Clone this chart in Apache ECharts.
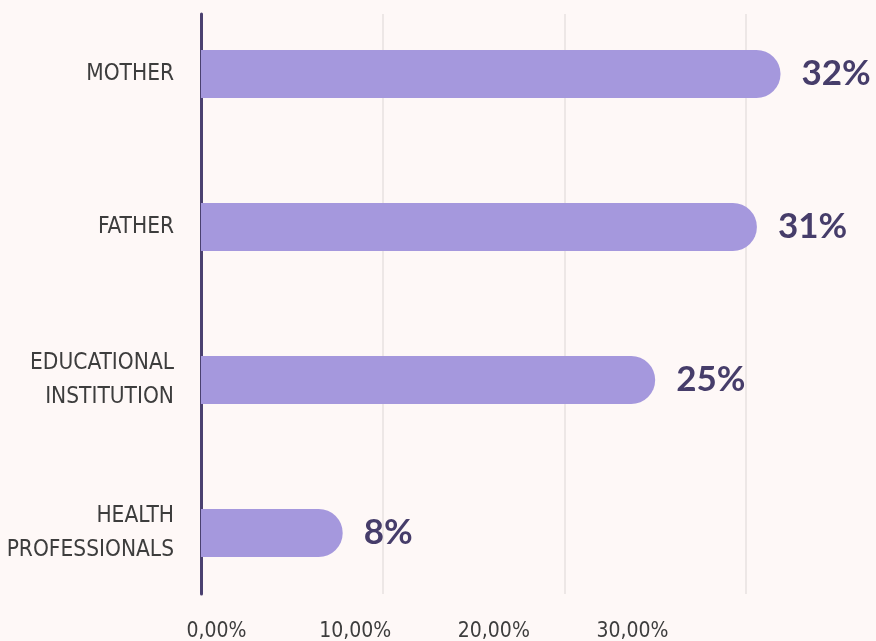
<!DOCTYPE html>
<html>
<head>
<meta charset="utf-8">
<script src="https://cdn.jsdelivr.net/npm/echarts@6/dist/echarts.min.js"></script>
<style>
html,body{margin:0;padding:0;background:#fef8f7;}
#c{width:876px;height:641px;}
</style>
</head>
<body>
<div id="c"></div>
<script>
const categories = ["MOTHER", "FATHER", "EDUCATIONAL\nINSTITUTION", "HEALTH\nPROFESSIONALS"];
const values = [31.9, 30.6, 25.0, 7.8];
const tickLabels = ["0,00%", "10,00%", "20,00%", "30,00%"];

const FONT = "'DejaVu Sans Condensed', 'Liberation Sans Narrow', 'Arial Narrow', sans-serif";
const chart = echarts.init(document.getElementById('c'));
const W = 726.67;
chart.setOption({
  backgroundColor: '#fef8f7',
  animation: false,
  grid: [
    { left: 201, top: 14, height: 580, width: W, containLabel: false, outerBoundsMode: 'none' },
    { left: 201, top: -2.5, height: 612, width: W, containLabel: false, outerBoundsMode: 'none' },
    { left: 216.5, top: 602, height: 10, width: 416, containLabel: false, outerBoundsMode: 'none' }
  ],
  xAxis: [
    { gridIndex: 0, type: 'value', min: 0, max: 40, interval: 10,
      axisLine: { show: false }, axisTick: { show: false }, axisLabel: { show: false },
      splitLine: { show: true, lineStyle: { color: '#ede7e6', width: 2 } } },
    { gridIndex: 1, type: 'value', min: 0, max: 40, interval: 10,
      axisLine: { show: false }, axisTick: { show: false }, axisLabel: { show: false },
      splitLine: { show: false } },
    { gridIndex: 2, type: 'value', min: 0, max: 30, interval: 10, position: 'bottom',
      axisLine: { show: false }, axisTick: { show: false }, splitLine: { show: false },
      axisLabel: { show: true, margin: 9, fontFamily: FONT, fontSize: 21,
        color: '#3d3d3d', formatter: v => tickLabels[Math.round(v / 10)] } }
  ],
  yAxis: [
    { gridIndex: 0, type: 'value', min: 0, max: 1,
      axisLine: { show: true, lineStyle: { color: '#4b4170', width: 3 } },
      axisTick: { show: false }, axisLabel: { show: false }, splitLine: { show: false } },
    { gridIndex: 1, type: 'category', data: categories, inverse: true,
      axisLine: { show: false }, axisTick: { show: false },
      axisLabel: { margin: 27, fontFamily: FONT, fontSize: 22.5,
        lineHeight: 34, padding: [8, 0, 0, 0], color: '#3d3d3d', align: 'right' } },
    { gridIndex: 2, type: 'value', show: false }
  ],
  series: [{
    type: 'bar',
    xAxisIndex: 1, yAxisIndex: 1,
    data: values,
    barWidth: 48,
    itemStyle: { color: '#a598dd', borderRadius: [0, 24, 24, 0] },
    label: {
      show: true, position: 'right', distance: 21, padding: [4, 0, 0, 0],
      fontFamily: 'Lato', fontWeight: 'bold', fontSize: 35, color: '#463d6a',
      formatter: p => Math.round(p.value) + '%'
    }
  }]
});
</script>
</body>
</html>
